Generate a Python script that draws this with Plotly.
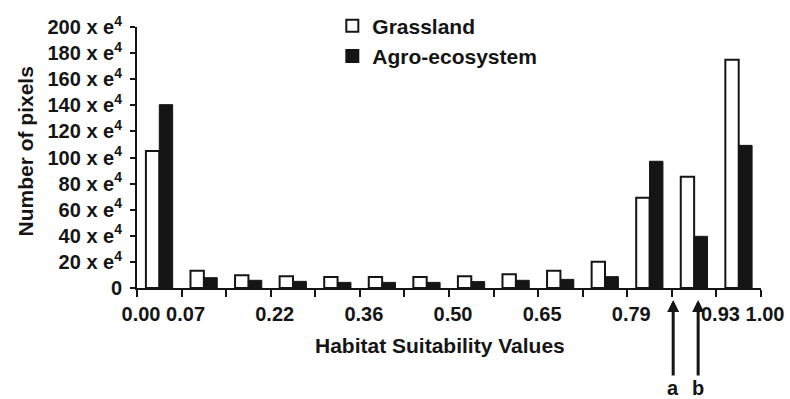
import plotly.graph_objects as go

# Data (pixel counts in units of 1e4)
bins = list(range(14))
grassland = [105, 13.3, 9.7, 9.0, 8.4, 8.4, 8.4, 9.0, 10.5, 13.3, 20.2, 69.2, 85.3, 175]
agro = [140.5, 7.9, 5.9, 5.1, 4.3, 4.3, 4.3, 4.9, 5.9, 6.6, 8.7, 97.1, 39.6, 109.3]
x_tick_vals = [0, 1, 3, 5, 7, 9, 11, 13, 14]
x_tick_text = ["0.00", "0.07", "0.22", "0.36", "0.50", "0.65", "0.79", "0.93", "1.00"]
x_boundaries = list(range(15))
y_tick_vals = list(range(0, 201, 20))
y_tick_text = ["0"] + [f"{v} x e<sup>4</sup>" for v in range(20, 201, 20)]
marker_pos = [12.03, 12.59]
marker_lab = ["a", "b"]

FONT = "Liberation Sans, Arial, sans-serif"
INK = "#151515"
xc = [b + 0.5 for b in bins]

fig = go.Figure()
fig.add_trace(go.Bar(x=xc, y=grassland, name="Grassland",
                     marker=dict(color="white", line=dict(color=INK, width=2))))
fig.add_trace(go.Bar(x=xc, y=agro, name="Agro-ecosystem",
                     marker=dict(color=INK, line=dict(color=INK, width=1))))

fig.update_layout(
    width=790, height=399,
    margin=dict(l=137, r=29, t=27, b=111, autoexpand=False),
    plot_bgcolor="white", paper_bgcolor="white",
    barmode="group", bargap=0.4, bargroupgap=0,
    font=dict(family=FONT, color=INK),
    legend=dict(x=0.313, y=1.082, xanchor="left", yanchor="top",
                font=dict(size=21, family=FONT, color=INK, weight="bold"),
                bgcolor="rgba(0,0,0,0)", itemsizing="constant"),
    showlegend=True,
)
fig.update_xaxes(range=[0, 14], tickvals=x_tick_vals, ticktext=x_tick_text,
                 ticks="outside", ticklen=7, tickwidth=1.5, tickcolor=INK,
                 minor=dict(tickvals=x_boundaries, ticks="outside", ticklen=7,
                            tickwidth=1.5, tickcolor=INK, showgrid=False),
                 showline=True, linewidth=2, linecolor=INK, showgrid=False,
                 zeroline=False, ticklabelshift=4, automargin=False,
                 tickfont=dict(size=20, family=FONT, color=INK, weight="bold"))
fig.update_yaxes(range=[0, 200], tickvals=y_tick_vals, ticktext=y_tick_text,
                 ticks="outside", ticklen=5, tickwidth=1.5, tickcolor=INK,
                 showline=True, linewidth=2, linecolor=INK, showgrid=False,
                 zeroline=False, ticklabelstandoff=4, automargin=False,
                 tickfont=dict(size=20, family=FONT, color=INK, weight="bold"))

fig.add_annotation(text="<b>Habitat Suitability Values</b>", xref="paper", yref="paper",
                   x=(439.5 - 137) / 624, y=(288 - 345) / 261, showarrow=False,
                   xanchor="center", yanchor="middle", font=dict(size=21, family=FONT, color=INK))
fig.add_annotation(text="<b>Number of pixels</b>", xref="paper", yref="paper",
                   x=(25 - 137) / 624, y=(288 - 151.5) / 261, showarrow=False, textangle=-90,
                   xanchor="center", yanchor="middle", font=dict(size=21, family=FONT, color=INK))
for p, lab in zip(marker_pos, marker_lab):
    fig.add_annotation(text=f"<b>{lab}</b>", xref="x", yref="paper", x=p, y=-12 / 261,
                       showarrow=True, ax=0, ay=88, arrowhead=2, arrowsize=0.8,
                       arrowwidth=3, arrowcolor=INK,
                       font=dict(size=20, family=FONT, color=INK))

fig.write_html("out.html")
